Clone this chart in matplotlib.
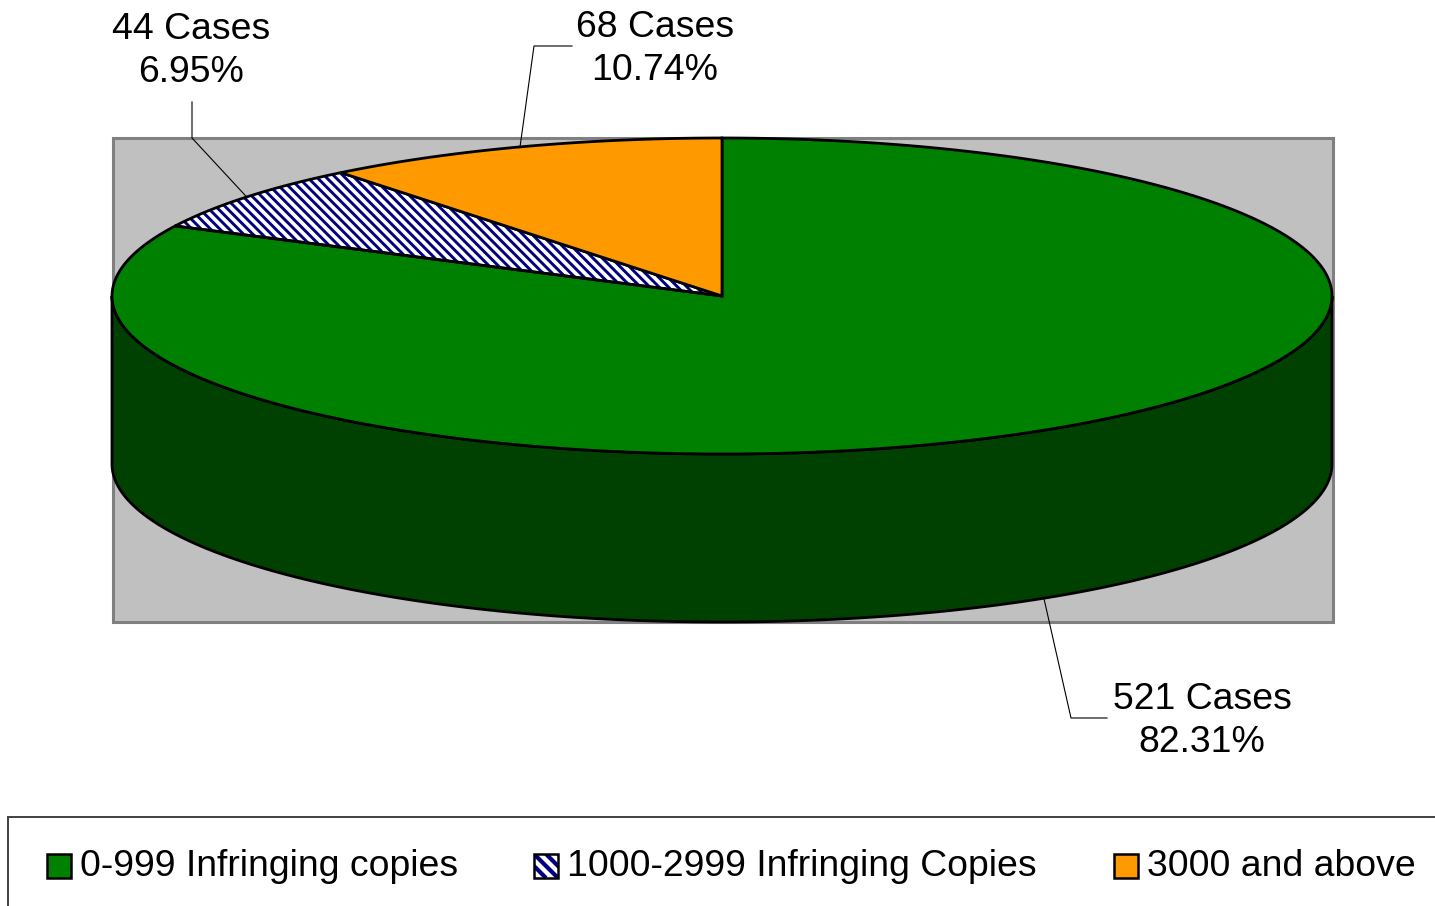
import numpy as np
import matplotlib
matplotlib.use('Agg')
import matplotlib.pyplot as plt
from matplotlib.patches import Polygon, Rectangle

# ---- data ----
categories = ['0-999 Infringing copies', '1000-2999 Infringing Copies', '3000 and above']
cases = [521, 44, 68]

# ---- styles ----
top_colors = ['#008000', '#FFFFFF', '#FF9900']
side_colors = ['#004000', '#000050', '#995C00']
striped = [False, True, False]
stripe_color = '#000080'

plt.rcParams['font.family'] = ['Liberation Sans', 'DejaVu Sans']

W, H = 1435, 906
fig = plt.figure(figsize=(W / 100, H / 100), dpi=100)
ax = fig.add_axes([0, 0, 1, 1])
ax.set_xlim(0, W)
ax.set_ylim(H, 0)
ax.axis('off')

# plot area (gray)
ax.add_patch(Rectangle((113, 138), 1220, 484, facecolor='#C0C0C0',
                       edgecolor='#808080', lw=2.2, zorder=0))

# pie geometry (layout)
CX, CY, RX, RY, DEPTH = 722, 296, 610, 158, 168
FS = 26.9
EDGE_LW = 2.0


def pt(theta_deg, dy=0.0):
    t = np.radians(theta_deg)
    return CX + RX * np.cos(t), CY - RY * np.sin(t) + dy


def add_stripes(patch, bounds, period, lw, zorder):
    """Diagonal '\\' stripes clipped to patch (pixel-like data coords, y down)."""
    x0, y0, x1, y1 = bounds
    h = y1 - y0
    for c in np.arange(x0 - h - period, x1 + period, period):
        ln, = ax.plot([c, c + h], [y0, y1], color=stripe_color, lw=lw,
                      solid_capstyle='butt', zorder=zorder)
        ln.set_clip_path(patch)


total = float(sum(cases))
angles = []
start = 90.0
for c in cases:
    end = start - 360.0 * c / total
    angles.append((start, end))
    start = end

# side walls (front half only)
for i, (a0, a1) in enumerate(angles):
    for k in range(-2, 3):
        lo = max(a1, -180 + 360 * k)
        hi = min(a0, 0 + 360 * k)
        if hi > lo:
            th = np.linspace(lo, hi, 200)
            xt, yt = pt(th)
            xb, yb = pt(th[::-1], DEPTH)
            verts = np.column_stack([np.concatenate([xt, xb]),
                                     np.concatenate([yt, yb])])
            ax.add_patch(Polygon(verts, closed=True, facecolor=side_colors[i],
                                 edgecolor='black', lw=EDGE_LW, zorder=2))

# top wedges
for i, (a0, a1) in enumerate(angles):
    th = np.linspace(a0, a1, 300)
    xs, ys = pt(th)
    verts = np.column_stack([np.concatenate([[CX], xs]),
                             np.concatenate([[CY], ys])])
    if striped[i]:
        base = Polygon(verts, closed=True, facecolor=top_colors[i],
                       edgecolor='none', lw=0, zorder=3)
        ax.add_patch(base)
        add_stripes(base, (verts[:, 0].min(), verts[:, 1].min(),
                           verts[:, 0].max(), verts[:, 1].max()),
                    period=9.3, lw=2.1, zorder=3.5)
        ax.add_patch(Polygon(verts, closed=True, fill=False,
                             edgecolor='black', lw=EDGE_LW, zorder=4))
    else:
        ax.add_patch(Polygon(verts, closed=True, facecolor=top_colors[i],
                             edgecolor='black', lw=EDGE_LW, zorder=4))

# data labels with leader lines (elbow/text positions are layout)
label_layout = [
    dict(text=(1202, 721), elbow=[(1071, 718), (1107, 718)]),
    dict(text=(191, 51), elbow=[(192, 138), (192, 102)]),
    dict(text=(655, 49), elbow=[(534, 46), (572, 46)]),
]
for i, (a0, a1) in enumerate(angles):
    mid = (a0 + a1) / 2.0
    dy = DEPTH if np.sin(np.radians(mid)) < 0 else 0.0
    ax_, ay_ = pt(mid, dy)
    lay = label_layout[i]
    xs = [ax_] + [p[0] for p in lay['elbow']]
    ys = [ay_] + [p[1] for p in lay['elbow']]
    ax.plot(xs, ys, color='black', lw=0.8, zorder=5)
    pct = 100.0 * cases[i] / total
    ax.text(lay['text'][0], lay['text'][1], f"{cases[i]} Cases\n{pct:.2f}%",
            ha='center', va='center', fontsize=FS, linespacing=1.3, zorder=6)

# legend (manual)
ax.add_patch(Rectangle((8, 817), 1600, 300, facecolor='white',
                       edgecolor='#404040', lw=1.4, zorder=1, clip_on=False))
leg_x = [47, 534, 1114]
for i, cat in enumerate(categories):
    if striped[i]:
        base = Rectangle((leg_x[i], 854), 24, 24, facecolor=top_colors[i],
                         edgecolor='none', lw=0, zorder=3)
        ax.add_patch(base)
        add_stripes(base, (leg_x[i], 854, leg_x[i] + 24, 878),
                    period=12, lw=3.0, zorder=3.5)
        ax.add_patch(Rectangle((leg_x[i], 854), 24, 24, fill=False,
                               edgecolor='black', lw=1.8, zorder=4))
    else:
        ax.add_patch(Rectangle((leg_x[i], 854), 24, 24, facecolor=top_colors[i],
                               edgecolor='black', lw=1.8, zorder=4))
    ax.text(leg_x[i] + 33, 866, cat, ha='left', va='center',
            fontsize=FS, zorder=5)

fig.savefig('out.png', dpi=100, facecolor='white')
